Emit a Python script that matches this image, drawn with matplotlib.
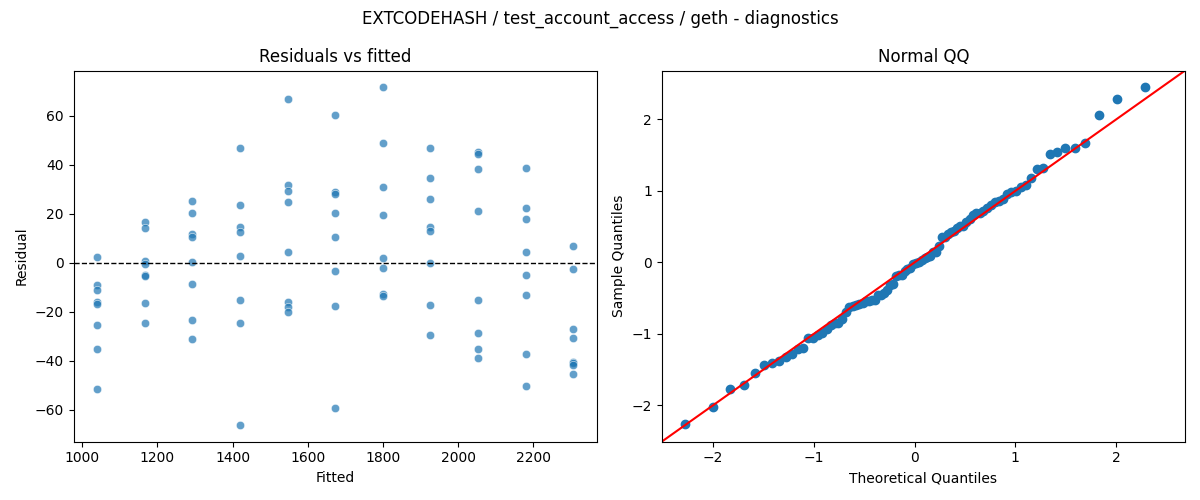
import numpy as np
import matplotlib
matplotlib.use("Agg")
import matplotlib.pyplot as plt
import seaborn as sns
from statistics import NormalDist

fitted_levels = [1040, 1167, 1293, 1420, 1547, 1673, 1800, 1926, 2053, 2180, 2306]
residual_groups = [
    [2.3, -9.0, -11.1, -15.8, -16.8, -25.4, -35.2, -51.5],
    [16.7, 14.1, 0.9, -0.5, -4.9, -5.4, -16.4, -24.6],
    [25.3, 20.2, 11.8, 10.6, 0.3, -8.6, -23.2, -30.9],
    [46.7, 23.5, 14.8, 12.5, 2.7, -15.2, -24.6, -66.1],
    [66.7, 31.6, 29.2, 24.7, 4.4, -15.9, -18.2, -20.1],
    [60.2, 28.9, 28.1, 20.2, 10.6, -3.4, -17.6, -59.2],
    [71.6, 48.8, 30.8, 19.4, 1.9, -2.2, -12.6, -13.4],
    [46.7, 34.5, 25.9, 14.8, 12.9, -0.1, -17.2, -29.5],
    [45.3, 44.4, 38.2, 21.1, -15.2, -28.6, -35.0, -38.7],
    [38.6, 22.3, 17.8, 4.4, -5.0, -13.2, -37.2, -50.1],
    [6.8, -2.6, -27.0, -30.7, -40.3, -41.0, -41.7, -45.3],
]

title = "EXTCODEHASH / test_account_access / geth - diagnostics"

fitted = np.array([f for f, g in zip(fitted_levels, residual_groups) for _ in g], dtype=float)
resid = np.array([r for g in residual_groups for r in g], dtype=float)

fig, (ax1, ax2) = plt.subplots(1, 2, figsize=(12, 5), dpi=100)

sns.scatterplot(x=fitted, y=resid, ax=ax1, alpha=0.7)
ax1.axhline(0, color="black", linestyle="--", linewidth=1)
ax1.set_title("Residuals vs fitted")
ax1.set_xlabel("Fitted")
ax1.set_ylabel("Residual")

# Normal QQ (statsmodels-style, fit=True, line='45')
n = len(resid)
z = np.sort((resid - resid.mean()) / resid.std())
nd = NormalDist()
theo = np.array([nd.inv_cdf(i / (n + 1)) for i in range(1, n + 1)])
ax2.plot(theo, z, marker="o", linestyle="none", color="C0")
ax2.relim()
ax2.autoscale_view()
xl, yl = ax2.get_xlim(), ax2.get_ylim()
lo, hi = min(xl[0], yl[0]), max(xl[1], yl[1])
ax2.plot([lo, hi], [lo, hi], "r-")
ax2.set_xlim(lo, hi)
ax2.set_ylim(lo, hi)
ax2.set_xlabel("Theoretical Quantiles")
ax2.set_ylabel("Sample Quantiles")
ax2.set_title("Normal QQ")

fig.suptitle(title)
fig.tight_layout()
fig.savefig("out.png", dpi=100)
